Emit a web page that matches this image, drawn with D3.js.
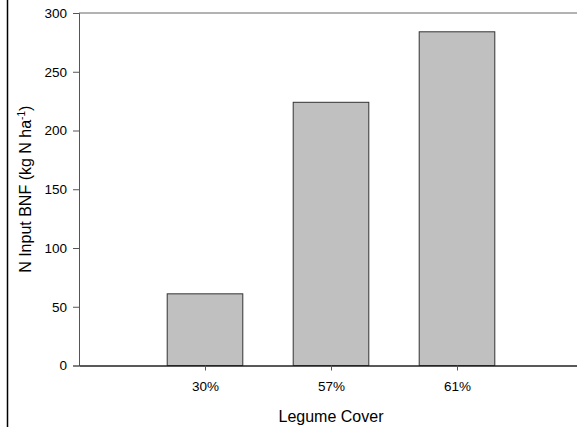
<!DOCTYPE html>
<html><head><meta charset="utf-8">
<script src="https://cdn.jsdelivr.net/npm/d3@7"></script>
<style>body{margin:0;background:#fff}svg{display:block}text{font-family:"Liberation Sans",Arial,sans-serif}</style>
</head><body>
<svg id="c" width="577" height="427"></svg>
<script>
const categories = ["30%", "57%", "61%"];
const values = [61, 224, 284];
const yTicks = [0, 50, 100, 150, 200, 250, 300];

(function () {
const svg = d3.select("#c");
const mLeft = 79, mTop = 13, mBottom = 365.5, mRight = 583;
const x = d3.scaleLinear().domain([0, 4]).range([mLeft, mRight]);
const y = d3.scaleLinear().domain([0, 300]).range([mBottom, mTop]);
const barW = (x(1) - x(0)) * 0.6;
const FONT = "Liberation Sans, Arial, sans-serif";

// page border line on the left
svg.append("line").attr("x1", 7.5).attr("x2", 7.5).attr("y1", 0).attr("y2", 427)
  .attr("stroke", "#000").attr("stroke-width", 1.5);

// top frame
svg.append("line").attr("x1", mLeft).attr("x2", mRight).attr("y1", mTop).attr("y2", mTop)
  .attr("stroke", "#666").attr("stroke-width", 1);

// bars
svg.selectAll("rect.bar").data(values).join("rect").attr("class", "bar")
  .attr("x", (d, i) => x(i + 1) - barW / 2)
  .attr("width", barW)
  .attr("y", d => y(d))
  .attr("height", d => y(0) - y(d))
  .attr("fill", "#c0c0c0").attr("stroke", "#333").attr("stroke-width", 1);

// y axis
const yAxis = d3.axisLeft(y).tickValues(yTicks).tickSize(6).tickPadding(6);
const gy = svg.append("g").attr("transform", `translate(${mLeft},0)`).call(yAxis);
gy.attr("font-size", 13.5).attr("font-family", FONT);
gy.select(".domain").attr("stroke", "#555");
gy.selectAll(".tick line").attr("stroke", "#555");
gy.selectAll("text").attr("fill", "#000");

// x axis
const xAxis = d3.axisBottom(x).tickValues([1, 2, 3]).tickFormat((d) => categories[d - 1]).tickSize(5).tickPadding(10.5).tickSizeOuter(0);
const gx = svg.append("g").attr("transform", `translate(0,${mBottom})`).call(xAxis);
gx.attr("font-size", 13.5).attr("font-family", FONT);
gx.select(".domain").attr("stroke", "#222").attr("stroke-width", 1.3);
gx.selectAll(".tick line").attr("stroke", "#555");
gx.selectAll("text").attr("fill", "#000");

// x title
svg.append("text").attr("x", x(2)).attr("y", 422).attr("text-anchor", "middle")
  .attr("font-size", 16).text("Legume Cover");

// y title
const yt = svg.append("text").attr("transform", `translate(31,${(mTop + mBottom) / 2}) rotate(-90)`)
  .attr("text-anchor", "middle").attr("font-size", 16);
yt.append("tspan").text("N Input BNF (kg N ha");
yt.append("tspan").attr("font-size", 10).attr("dy", -6).text("-1");
yt.append("tspan").attr("dy", 6).text(")");
})();
</script>
</body></html>
